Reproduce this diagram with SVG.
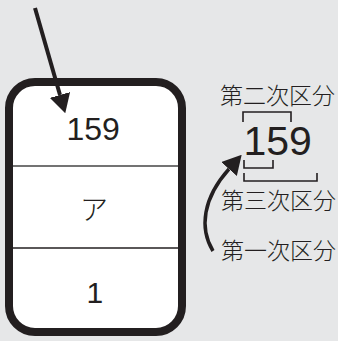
<svg xmlns="http://www.w3.org/2000/svg" width="338" height="341" viewBox="0 0 338 341">
<style>
.num{font-family:"Liberation Sans",Arial,sans-serif;fill:#231f20}
.jp{font-family:"Noto Sans CJK JP","Noto Sans",sans-serif;font-weight:300;fill:#231f20}
.br{fill:none;stroke:#231f20;stroke-width:1.6}
.conn{fill:none;stroke:#231f20}
</style>
<defs>
<marker id="ah" markerUnits="userSpaceOnUse" viewBox="0 0 19 21" refX="0" refY="10.5" markerWidth="19" markerHeight="21" orient="auto">
<path d="M0,0 L19,10.5 L0,21 z" fill="#231f20"/>
</marker>
</defs>
<rect width="338" height="341" fill="#e6e7e8"/>
<g id="box">
<rect x="9" y="82" width="173" height="250" rx="26" fill="#fff" stroke="#231f20" stroke-width="8"/>
<line x1="13" y1="166" x2="178" y2="166" stroke="#444" stroke-width="1.5"/>
<line x1="13" y1="248" x2="178" y2="248" stroke="#231f20" stroke-width="1.5"/>
<text class="num" x="66.5" y="140" font-size="32">159</text>
<text class="jp" x="94" y="220" font-size="28" text-anchor="middle">ア</text>
<text class="num" x="86.5" y="303" font-size="30">1</text>
</g>
<g id="legend">
<text class="jp" x="220" y="104" font-size="23">第二次区分</text>
<text class="num" x="243.5" y="155" font-size="41">159</text>
<path class="br" d="M243,122 V112 H291 V122"/>
<path class="br" d="M244,160 V168 H273 V160"/>
<path class="br" d="M244,173 V181 H317 V173"/>
<text class="jp" x="221" y="209" font-size="23">第三次区分</text>
<text class="jp" x="221" y="259" font-size="23">第一次区分</text>
</g>
<g id="connectors">
<path class="conn" d="M35,8 L60,95" stroke-width="4" marker-end="url(#ah)"/>
<path class="conn" d="M213,251 C199,228 203,198 229,169" stroke-width="3.5" marker-end="url(#ah)"/>
</g>
</svg>
